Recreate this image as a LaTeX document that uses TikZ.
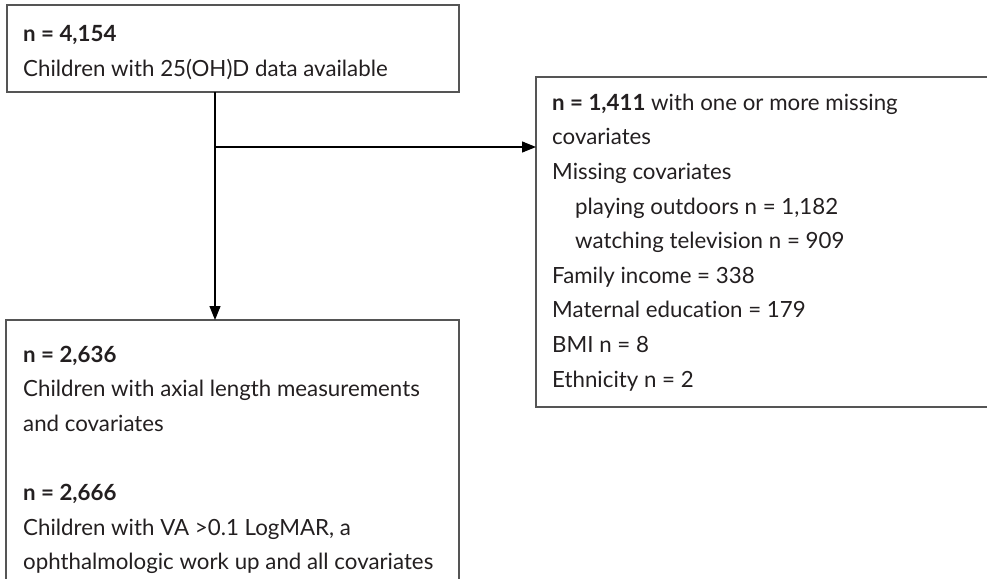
\documentclass[tikz,border=0pt]{standalone}
\usepackage{fontspec}
\setmainfont{Lato}[RawFeature={-liga}]
\usetikzlibrary{arrows.meta}
\definecolor{boxline}{HTML}{555555}
\definecolor{ink}{HTML}{231F20}
% first-line strut: height 0.7 * 34.6pt
\newcommand{\firstline}{\rule{0pt}{24.22pt}}
\begin{document}
\begin{tikzpicture}[x=1pt,y=-1pt,
  boxframe/.style={draw=boxline,line width=1.3pt},
  txt/.style={anchor=north west,inner sep=0pt,align=left,text=ink,
    font=\fontsize{22.3}{34.6}\selectfont},
  flow/.style={draw=black,line width=1.2pt,-{Triangle[length=14pt,width=11pt]}}]
\useasboundingbox (0,0) rectangle (987,578);
\clip (0,0) rectangle (987,578);

% boxes
\draw[boxframe] (7,5) rectangle (459,92);
\coordinate (topS) at (215,92);
\coordinate (excl) at (536,147);
\draw[boxframe] (536,77) rectangle (1000,407);
\draw[boxframe] (6,320) rectangle (459,600);
\coordinate (botN) at (215,320);

% texts (node placed 24.22pt above the first baseline)
\node[txt] (t1) at (23,17.3) {\firstline\textbf{n = 4,154}\\Children with 25(OH)D data available};
\node[txt] (t2) at (552,85.8) {\firstline\textbf{n = 1,411} with one or more missing\\
covariates\\Missing covariates\\
\hspace*{23pt}playing outdoors n = 1,182\\
\hspace*{23pt}watching television n = 909\\
Family income = 338\\Maternal education = 179\\BMI n = 8\\Ethnicity n = 2};
\node[txt] (t3) at (23,337.8) {\firstline\textbf{n = 2,636}\\Children with axial length measurements\\and covariates\\[34.6pt]
\textbf{n = 2,666}\\Children with VA >0.1 LogMAR, a\\ophthalmologic work up and all covariates};

% connectors
\draw[flow] (topS) -- (botN);
\draw[flow] (topS |- excl) -- (excl);
\end{tikzpicture}
\end{document}
